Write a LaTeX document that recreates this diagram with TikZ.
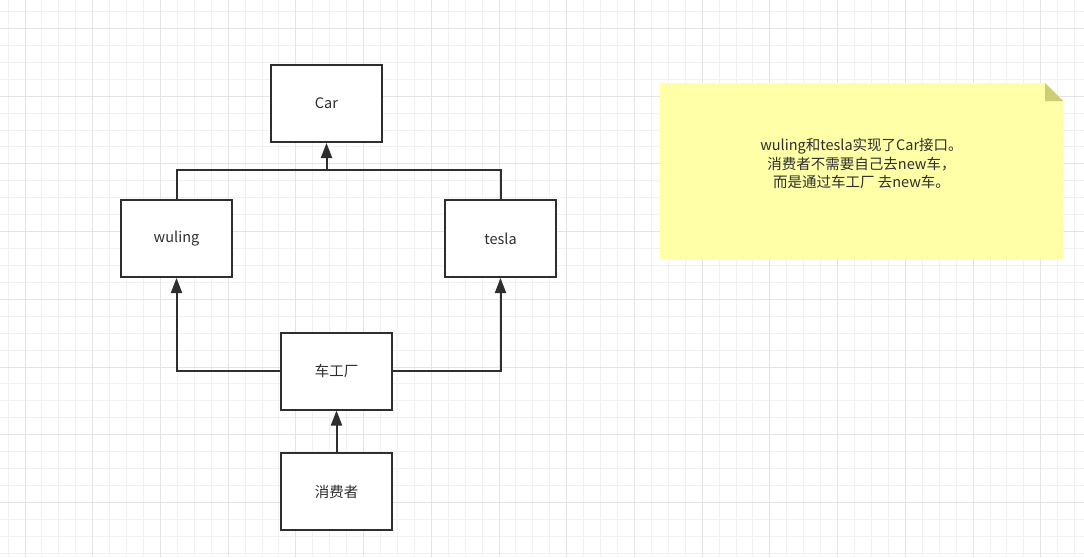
\documentclass[tikz,border=0pt]{standalone}
\usepackage{fontspec}
\setmainfont{Noto Sans CJK SC}
\usetikzlibrary{arrows.meta}
\definecolor{ink}{HTML}{2E2E2E}
\definecolor{gridminor}{HTML}{F1F1F1}
\definecolor{gridmajor}{HTML}{E4E4E4}
\definecolor{notefill}{HTML}{FFFFA8}
\definecolor{notefold}{HTML}{CDCD77}
\begin{document}
\begin{tikzpicture}[x=1pt,y=-1pt,
  box/.style={draw=ink, line width=2pt, fill=white, minimum width=111pt, minimum height=77pt, inner sep=0pt, font=\fontsize{14.5}{18}\selectfont, text=ink},
  conn/.style={draw=ink, line width=2pt},
  arr/.style={conn, -{Triangle[length=15pt,width=11pt]}},
  minorline/.style={draw=gridminor, line width=1pt},
  majorline/.style={draw=gridmajor, line width=1pt},
  notetext/.style={align=center, font=\fontsize{14.5}{18.5}\selectfont, text=ink, inner sep=0pt}]
\useasboundingbox (0,0) rectangle (1084,557);
\fill[white] (0,0) rectangle (1084,557);
% grid
\foreach \i in {0,...,63} \draw[minorline] ({8.07+16.93*\i},0) -- ++(0,557);
\foreach \i in {0,...,32} \draw[minorline] (0,{11.5+16.93*\i}) -- ++(1084,0);
\foreach \i in {0,...,15} \draw[majorline] ({25+67.72*\i},0) -- ++(0,557);
\foreach \i in {0,...,7} \draw[majorline] (0,{28.4+67.72*\i}) -- ++(1084,0);
% nodes
\node[box] (car) at (326.5,103.5) {Car};
\node[box] (wuling) at (176.5,238.5) {wuling};
\node[box] (tesla) at (500.5,238.5) {tesla};
\node[box] (factory) at (336.5,371) {车工厂};
\node[box] (consumer) at (336.5,491.5) {消费者};
\coordinate (j) at (326.5,170);
% connectors
\draw[conn] (wuling.north) |- (j);
\draw[conn] (tesla.north) |- (j);
\draw[arr] (j) -- (car.south);
\draw[arr] (factory.west) -| (wuling.south);
\draw[arr] (factory.east) -| (tesla.south);
\draw[arr] (consumer.north) -- (factory.south);
% note
\fill[notefill] (660,83) -- (1045,83) -- (1063,101) -- (1063,259) -- (660,259) -- cycle;
\fill[notefold] (1045,83) -- (1045,101) -- (1063,101) -- cycle;
\node[notetext] (note) at (861.5,163.5) {wuling和tesla实现了Car接口。\\消费者不需要自己去new车，\\而是通过车工厂 去new车。};
\end{tikzpicture}
\end{document}
